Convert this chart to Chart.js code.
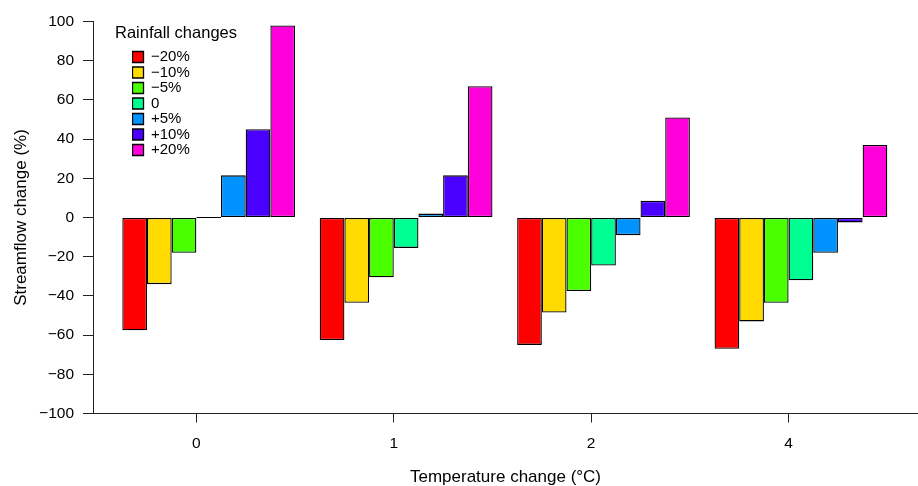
<!DOCTYPE html>
<html>
<head>
<meta charset="utf-8">
<script src="https://cdn.jsdelivr.net/npm/chart.js@4/dist/chart.umd.min.js"></script>
<style>
  html, body { margin: 0; padding: 0; background: #ffffff; }
  #wrap { width: 918px; height: 486px; }
</style>
</head>
<body>
<div id="wrap"><canvas id="chart" width="918" height="486"></canvas></div>
<script>
// Temperature scenarios (x-axis tick labels)
const temperatureChanges = ['0', '1', '2', '4'];

// Rainfall scenarios (legend entries)
const rainfallChanges = ['\u221220%', '\u221210%', '\u22125%', '0', '+5%', '+10%', '+20%'];

// Streamflow change (%) for each rainfall scenario, one value per temperature scenario
const flowRainMinus20 = [-57.5, -62.5, -65, -67];
const flowRainMinus10 = [-34, -43.5, -48.5, -53];
const flowRainMinus5  = [-18, -30.5, -37.5, -43.5];
const flowRainZero    = [0, -15.5, -24.5, -32];
const flowRainPlus5   = [21.5, 2, -9, -18];
const flowRainPlus10  = [45, 21.5, 8.5, -2.5];
const flowRainPlus20  = [98, 67, 51, 37];

const seriesValues = [
  flowRainMinus20, flowRainMinus10, flowRainMinus5, flowRainZero,
  flowRainPlus5, flowRainPlus10, flowRainPlus20
];

// rainbow palette, one colour per rainfall scenario
const seriesColors = ['#FF0000', '#FFDB00', '#49FF00', '#00FF92', '#0092FF', '#4900FF', '#FF00DB'];

const FONT = "'Liberation Sans', Arial, Helvetica, sans-serif";
Chart.defaults.font.family = FONT;
Chart.defaults.color = '#000000';

// each group of bars fills 7/8 of its slot, leaving one bar-width gap
const groupFraction = 7 / 8;
const halfBar = groupFraction / (2 * rainfallChanges.length);

// puts the legend inside the plotting area, at the upper left
const placeLegend = {
  id: 'placeLegend',
  afterLayout(chart, args, opts) {
    const lg = chart.legend;
    if (!lg) return;
    lg.left = opts.left;
    lg.top = opts.top;
    lg.width = opts.width;
    lg.height = opts.height;
    lg.right = opts.left + opts.width;
    lg.bottom = opts.top + opts.height;
  }
};

// heading written above the legend entries
const legendHeading = {
  id: 'legendHeading',
  afterDraw(chart, args, opts) {
    const ctx = chart.ctx;
    ctx.save();
    ctx.font = opts.size + 'px ' + FONT;
    ctx.fillStyle = '#000000';
    ctx.textAlign = 'left';
    ctx.textBaseline = 'middle';
    ctx.fillText(opts.text, opts.x, opts.y);
    ctx.restore();
  }
};

const datasets = rainfallChanges.map((label, s) => ({
  label: label,
  data: seriesValues[s].map((v, i) => ({ x: i, y: v })),
  backgroundColor: seriesColors[s],
  borderColor: '#000000',
  borderWidth: 1.3,
  borderSkipped: false,
  minBarLength: 1,
  categoryPercentage: groupFraction,
  barPercentage: 1
}));

new Chart(document.getElementById('chart'), {
  type: 'bar',
  data: { datasets: datasets },
  plugins: [placeLegend, legendHeading],
  options: {
    responsive: false,
    animation: false,
    devicePixelRatio: 1,
    layout: { padding: { left: 0, top: 21.5, right: 0, bottom: 0 } },
    scales: {
      x: {
        type: 'linear',
        min: -0.586,
        max: 3.593,
        offset: false,
        bounds: 'data',
        afterFit(scale) { scale.height = 72.5; },
        afterBuildTicks(axis) {
          axis.ticks = temperatureChanges.map((_, i) => ({ value: i - halfBar }));
        },
        ticks: {
          autoSkip: false,
          maxRotation: 0,
          padding: 12,
          color: '#000000',
          font: { size: 15.5 },
          callback: (value, index) => temperatureChanges[index]
        },
        grid: {
          offset: false,
          drawOnChartArea: false,
          drawTicks: true,
          tickLength: 9,
          color: '#222222',
          lineWidth: 1
        },
        border: { display: true, color: '#222222', width: 1 },
        title: {
          display: true,
          text: 'Temperature change (\u00B0C)',
          color: '#000000',
          font: { size: 17 },
          padding: { top: 0, bottom: -1.5 }
        }
      },
      y: {
        type: 'linear',
        min: -100,
        max: 100,
        afterFit(scale) { scale.width = 93; },
        ticks: {
          stepSize: 20,
          padding: 9,
          color: '#000000',
          font: { size: 15.5 },
          callback: (value) => (value < 0 ? '\u2212' + Math.abs(value) : String(value))
        },
        grid: {
          drawOnChartArea: false,
          drawTicks: true,
          tickLength: 10,
          color: '#222222',
          lineWidth: 1
        },
        border: { display: true, color: '#222222', width: 1 },
        title: {
          display: true,
          text: 'Streamflow change (%)',
          color: '#000000',
          font: { size: 17 },
          padding: { top: 11, bottom: 0 }
        }
      }
    },
    plugins: {
      tooltip: { enabled: false },
      legend: {
        display: true,
        position: 'chartArea',
        align: 'start',
        labels: {
          boxWidth: 11,
          boxHeight: 11,
          padding: 0.5,
          color: '#000000',
          font: { size: 15 }
        }
      },
      placeLegend: { left: 132, top: 49, width: 110, height: 120 },
      legendHeading: { text: 'Rainfall changes', x: 115, y: 33, size: 16.5 }
    }
  }
});
</script>
</body>
</html>
